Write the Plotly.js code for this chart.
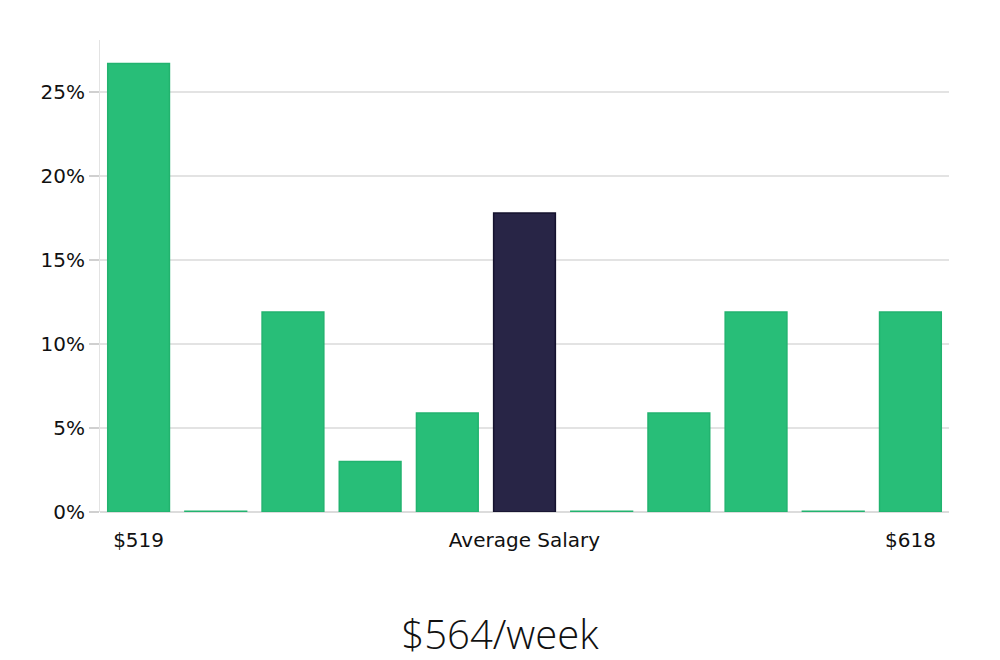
<!DOCTYPE html>
<html>
<head>
<meta charset="utf-8">
<script src="https://cdn.plot.ly/plotly-3.0.1.min.js"></script>
<style>html,body{margin:0;padding:0;background:#fff;}#chart{width:1000px;height:660px;}</style>
</head>
<body>
<div id="chart"></div>
<script>
const bins = [0,1,2,3,4,5,6,7,8,9,10];
const shares = [26.7, 0.05, 11.9, 3.0, 5.9, 17.8, 0.05, 5.9, 11.9, 0.05, 11.9];
const highlightIndex = 5;
const tickPositions = [0, 5, 10];
const tickLabels = ['$519', 'Average Salary', '$618'];
const yTicks = [0, 5, 10, 15, 20, 25];
const yTickLabels = ['0%', '5%', '10%', '15%', '20%', '25%'];
const titleText = '$564/week';

const fillColors = bins.map(i => i === highlightIndex ? '#282546' : '#28be78');
const lineColors = bins.map(i => i === highlightIndex ? '#15122e' : '#22b36f');

Plotly.newPlot('chart', [{
  type: 'bar',
  x: bins,
  y: shares,
  marker: {color: fillColors, line: {color: lineColors, width: 1.5}},
  hoverinfo: 'none'
}], {
  width: 1000, height: 660,
  margin: {l: 100, r: 51, t: 40, b: 148},
  paper_bgcolor: '#fff', plot_bgcolor: '#fff',
  bargap: 0.2,
  showlegend: false,
  font: {family: 'DejaVu Sans', size: 20, color: '#111'},
  title: {text: titleText, x: 0.5, xanchor: 'center', y: 0.038, yanchor: 'middle', yref: 'container',
          font: {family: 'Open Sans', size: 40, weight: 300, color: '#111'}},
  xaxis: {range: [-0.5, 10.5], tickvals: tickPositions, ticktext: tickLabels, showgrid: false,
          zeroline: false, showline: false, ticks: '', ticklabelstandoff: 14},
  yaxis: {range: [0, 28.1], tickvals: yTicks, ticktext: yTickLabels, showgrid: true, gridcolor: '#e3e3e3', gridwidth: 1.5,
          zeroline: true, zerolinecolor: '#dcdcdc', zerolinewidth: 1.5,
          showline: true, linecolor: '#e3e3e3', linewidth: 1,
          ticks: 'outside', ticklen: 10, tickcolor: '#d0d0d0', tickwidth: 1.5}
}, {displayModeBar: false, staticPlot: true});
</script>
</body>
</html>
